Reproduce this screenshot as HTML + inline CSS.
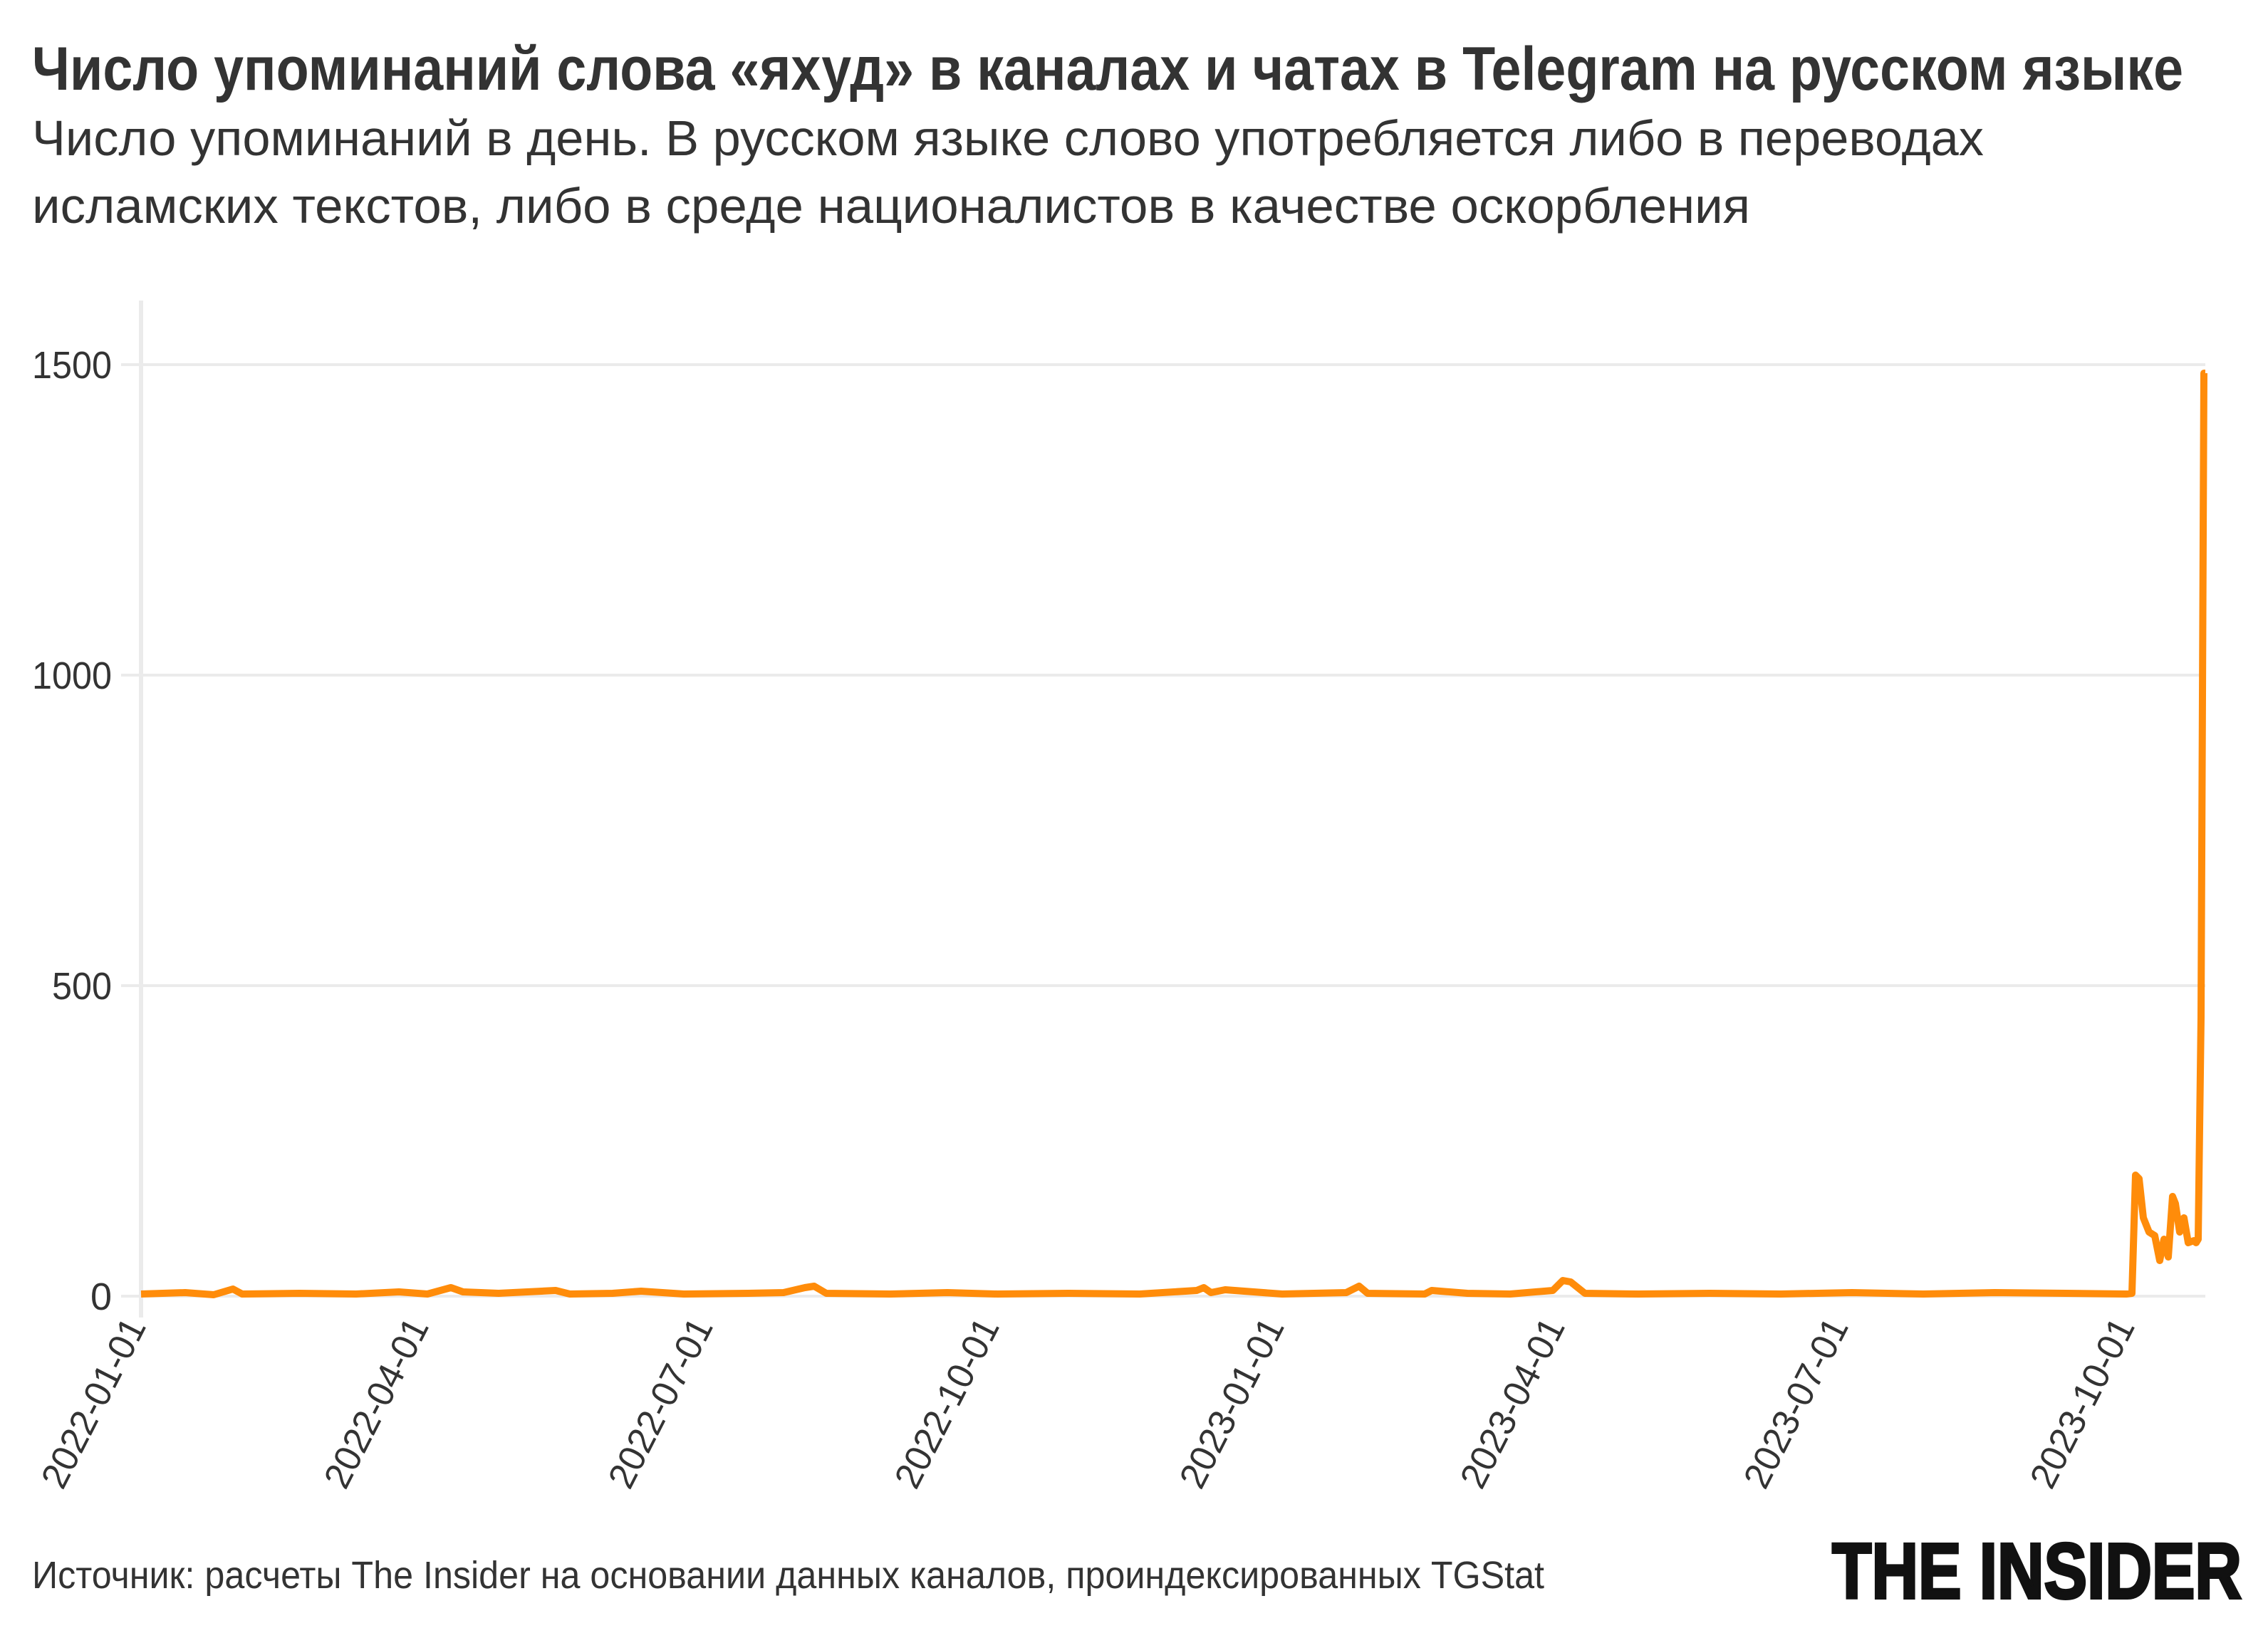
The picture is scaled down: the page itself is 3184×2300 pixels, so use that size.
<!DOCTYPE html>
<html><head><meta charset="utf-8"><style>
html,body{margin:0;padding:0;background:#fff;}
svg{display:block;}
text{font-family:"Liberation Sans","DejaVu Sans",sans-serif;fill:#333;}
</style></head><body>
<svg width="3184" height="2300" viewBox="0 0 3184 2300" xmlns="http://www.w3.org/2000/svg">
<rect width="3184" height="2300" fill="#fff"/>
<text x="45" y="126" font-size="86" font-weight="bold" textLength="3020" lengthAdjust="spacingAndGlyphs">Число упоминаний слова «яхуд» в каналах и чатах в Telegram на русском языке</text>
<text x="45" y="218" font-size="70" textLength="2740" lengthAdjust="spacingAndGlyphs">Число упоминаний в день. В русском языке слово употребляется либо в переводах</text>
<text x="45" y="313" font-size="70" textLength="2412" lengthAdjust="spacingAndGlyphs">исламских текстов, либо в среде националистов в качестве оскорбления</text>
<g stroke="#ebebeb" stroke-width="4">
<line x1="170" y1="512" x2="3096" y2="512"/>
<line x1="170" y1="948" x2="3096" y2="948"/>
<line x1="170" y1="1384" x2="3096" y2="1384"/>
<line x1="170" y1="1820" x2="3096" y2="1820"/>
</g>
<line x1="198" y1="422" x2="198" y2="1850" stroke="#ebebeb" stroke-width="6"/>
<g font-size="54" text-anchor="end">
<text x="157" y="531" textLength="112" lengthAdjust="spacingAndGlyphs">1500</text>
<text x="157" y="967" textLength="112" lengthAdjust="spacingAndGlyphs">1000</text>
<text x="157" y="1403" textLength="84" lengthAdjust="spacingAndGlyphs">500</text>
<text x="157" y="1839">0</text>
</g>
<polyline fill="none" stroke="#ff8c0a" stroke-width="10" stroke-linejoin="round" points="198,1817 260,1815 300,1818 327,1810 340,1817 420,1816 500,1817 560,1814 600,1817 633,1808 650,1814 700,1816 780,1812 800,1817 860,1816 900,1813 960,1817 1050,1816 1100,1815 1130,1808 1143,1806 1160,1816 1250,1817 1330,1815 1400,1817 1500,1816 1600,1817 1680,1812 1690,1808 1700,1815 1720,1811 1760,1814 1800,1817 1890,1815 1908,1806 1920,1816 2000,1817 2010,1812 2060,1816 2120,1817 2180,1812 2194,1798 2205,1800 2215,1808 2225,1816 2300,1817 2400,1816 2500,1817 2600,1815 2700,1817 2800,1815 2900,1816 2985,1817 2993,1816 2998,1650 3003,1655 3009,1710 3017,1730 3025,1735 3032,1770 3038,1740 3044,1765 3050,1680 3054,1690 3060,1730 3066,1710 3072,1745 3080,1742 3083,1745 3086,1740 3090,1428 3094,524 3096,524"/>
<g font-size="52" text-anchor="end">
<text transform="translate(206,1862) rotate(-63)" textLength="260" lengthAdjust="spacingAndGlyphs">2022-01-01</text>
<text transform="translate(603,1862) rotate(-63)" textLength="260" lengthAdjust="spacingAndGlyphs">2022-04-01</text>
<text transform="translate(1002,1862) rotate(-63)" textLength="260" lengthAdjust="spacingAndGlyphs">2022-07-01</text>
<text transform="translate(1404,1862) rotate(-63)" textLength="260" lengthAdjust="spacingAndGlyphs">2022-10-01</text>
<text transform="translate(1804,1862) rotate(-63)" textLength="260" lengthAdjust="spacingAndGlyphs">2023-01-01</text>
<text transform="translate(2198,1862) rotate(-63)" textLength="260" lengthAdjust="spacingAndGlyphs">2023-04-01</text>
<text transform="translate(2596,1862) rotate(-63)" textLength="260" lengthAdjust="spacingAndGlyphs">2023-07-01</text>
<text transform="translate(2998,1862) rotate(-63)" textLength="260" lengthAdjust="spacingAndGlyphs">2023-10-01</text>
</g>
<text x="45" y="2230" font-size="54" textLength="2123" lengthAdjust="spacingAndGlyphs">Источник: расчеты The Insider на основании данных каналов, проиндексированных TGStat</text>
<text x="2572" y="2244" font-size="110" font-weight="bold" style="fill:#111;stroke:#111;stroke-width:4" textLength="575" lengthAdjust="spacingAndGlyphs">THE INSIDER</text>
</svg>
</body></html>
